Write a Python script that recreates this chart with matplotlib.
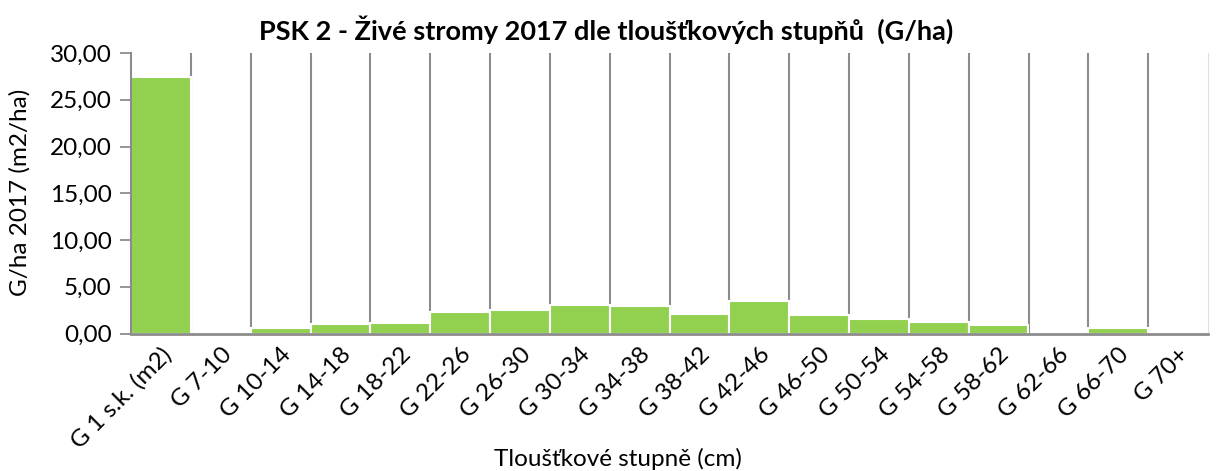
import numpy as np
import matplotlib
matplotlib.use("Agg")
import matplotlib.pyplot as plt
from matplotlib.ticker import FuncFormatter

# kategorie tloustkovych stupnu
categories = ["G 1 s.k. (m2)", "G 7-10", "G 10-14", "G 14-18", "G 18-22", "G 22-26",
              "G 26-30", "G 30-34", "G 34-38", "G 38-42", "G 42-46", "G 46-50",
              "G 50-54", "G 54-58", "G 58-62", "G 62-66", "G 66-70", "G 70+"]

# G/ha 2017 (odhad z obrazku)
values = [27.43, 0.0, 0.57, 1.04, 1.14, 2.25,
          2.46, 3.07, 2.96, 2.11, 3.43, 2.00,
          1.57, 1.25, 0.96, 0.0, 0.54, 0.0]

yticks = [0, 5, 10, 15, 20, 25, 30]

title = "PSK 2 - Živé stromy 2017 dle tloušťkových stupňů  (G/ha)"
xlabel = "Tloušťkové stupně (cm)"
ylabel = "G/ha 2017 (m2/ha)"

plt.rcParams['font.family'] = ['Lato', 'DejaVu Sans']

W, H = 1217, 471
fig = plt.figure(figsize=(W / 100, H / 100), dpi=100)
ax = fig.add_axes([131 / W, 1 - 333.5 / H, (1208 - 131) / W, (333.5 - 53) / H])

x = np.arange(len(categories))
ax.bar(x, values, width=1.0, color="#92D050", edgecolor="white", linewidth=1.5, zorder=2)

ax.set_xlim(-0.5, len(categories) - 0.5)
ax.set_ylim(0, 30)

# svisle mrizky mezi kategoriemi
ax.set_xticks(x)
ax.set_xticks(x[:-1] + 0.5, minor=True)
ax.grid(which="minor", axis="x", color="#8c8c8c", linewidth=1.5)
ax.set_axisbelow(True)
ax.tick_params(axis="x", which="both", length=0)

ax.set_xticklabels(categories, rotation=45, ha="right", rotation_mode="anchor", fontsize=17.5)
for lbl in ax.get_xticklabels():
    lbl.set_y(-0.02)

ax.set_yticks(yticks)
ax.yaxis.set_major_formatter(FuncFormatter(lambda v, p: f"{v:.2f}".replace(".", ",")))
ax.tick_params(axis="y", length=8, width=1.3, color="#8c8c8c", labelsize=17.5, pad=6)

ax.spines["top"].set_visible(False)
ax.spines["right"].set_color("#e0e0e0")
ax.spines["left"].set_color("#8c8c8c")
ax.spines["left"].set_linewidth(1.5)
ax.spines["bottom"].set_color("#8c8c8c")
ax.spines["bottom"].set_linewidth(2)
ax.spines["bottom"].set_zorder(3)

# popisky umistene podle reference
fig.text(606 / W, 1 - 30 / H, title, fontsize=19.5, fontweight="bold", ha="center", va="center")
fig.text(618 / W, 1 - 459 / H, xlabel, fontsize=17.5, ha="center", va="center")
fig.text(20 / W, 1 - 192 / H, ylabel, fontsize=17.5, rotation=90, ha="center", va="center")

fig.savefig("out.png", dpi=100)
